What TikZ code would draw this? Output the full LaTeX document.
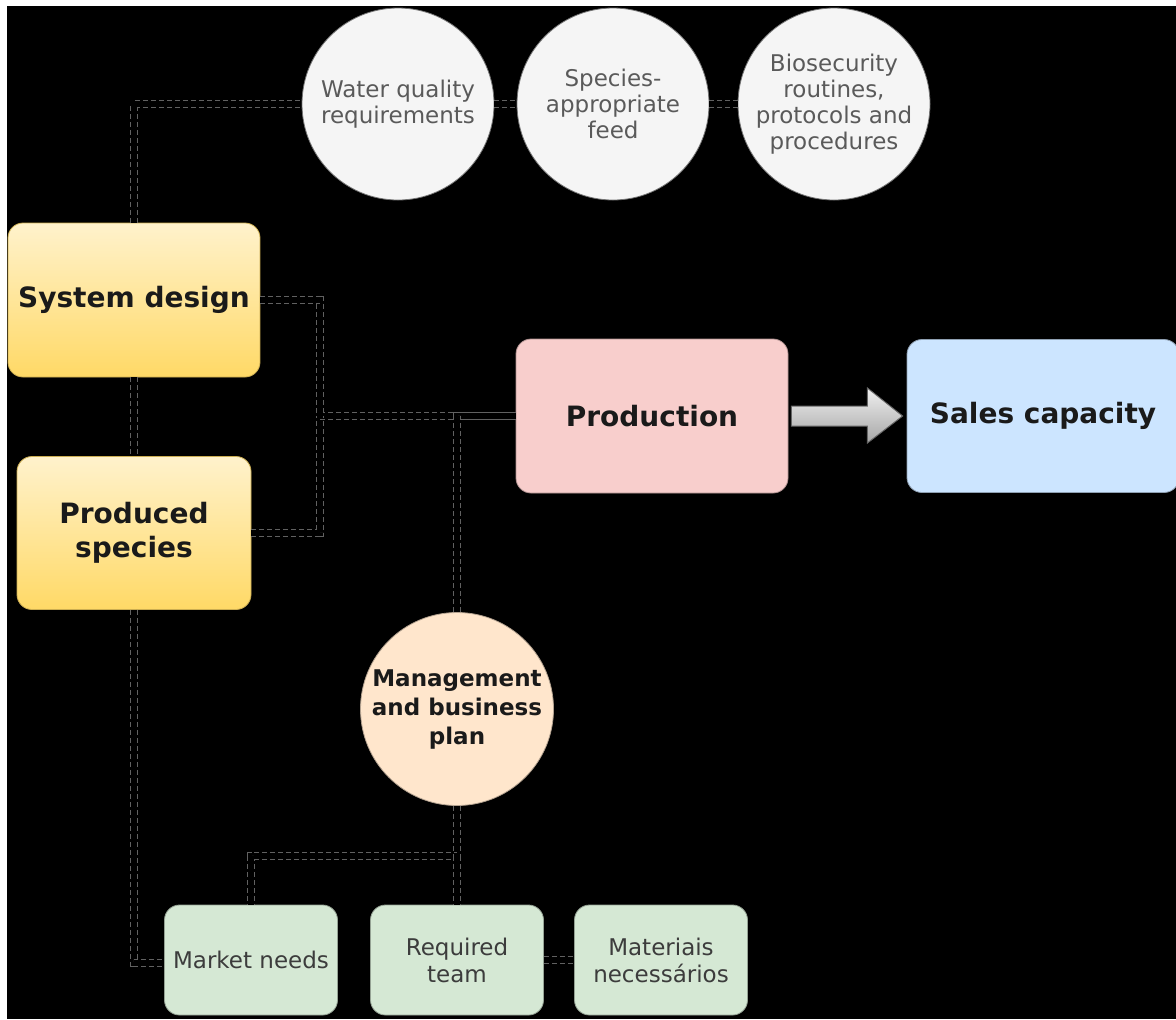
\documentclass[tikz,border=0pt]{standalone}
\usepackage{fontspec}
\setmainfont{DejaVu Sans}
\usetikzlibrary{calc}

\definecolor{circfill}{HTML}{F5F5F5}
\definecolor{circtext}{HTML}{5A5A5A}
\definecolor{yeltop}{HTML}{FFF2CC}
\definecolor{yelbot}{HTML}{FFD966}
\definecolor{prodfill}{HTML}{F8CECC}
\definecolor{salesfill}{HTML}{CCE5FF}
\definecolor{mgmtfill}{HTML}{FFE6CC}
\definecolor{greenfill}{HTML}{D5E8D4}
\definecolor{darktext}{HTML}{1A1A1A}
\definecolor{softtext}{HTML}{3C3C3C}

\begin{document}
\begin{tikzpicture}[x=0.5pt,y=-0.5pt]
    \tikzset{
        bigfont/.style={font=\fontsize{14pt}{17pt}\selectfont\bfseries,text=darktext},
        block/.style={
            draw,rounded corners=7.5pt,
            minimum width=136pt,minimum height=77pt,
            align=center,inner sep=1pt
        },
        yellowblock/.style={block,bigfont,draw=yelbot!80!black,
            top color=yeltop,bottom color=yelbot},
        topic/.style={circle,draw=black!55,fill=circfill,minimum size=96pt,
            inner sep=1pt,align=center,text=circtext,
            font=\fontsize{11.5pt}{13pt}\selectfont},
        item/.style={block,draw=greenfill!70!black,fill=greenfill,
            minimum width=86.5pt,minimum height=55pt,text=softtext,
            font=\fontsize{11.5pt}{13.5pt}\selectfont},
        link/.style={draw=black!62,line width=0.5pt,double=black,
            double distance=3pt,dash pattern=on 2.5pt off 1.5pt}
    }

    \useasboundingbox (0,0) rectangle (1176,1019);
    \fill[white] (0,0) rectangle (1176,1019);
    \fill[black] (7,6) rectangle (1176,1019);

    % top row
    \node[topic] (water) at (398,104) {Water quality\\requirements};
    \node[topic] (feed) at (613,104) {Species-\\appropriate\\feed};
    \node[topic] (bio) at (834,104) {Biosecurity\\routines,\\protocols and\\procedures};

    % left column
    \node[yellowblock,minimum width=126pt] (sysd) at (134,300) {System design};
    \node[yellowblock,minimum width=117pt,minimum height=76.5pt] (spec) at (134,533)
        {Produced\\species};

    % centre
    \node[block,bigfont,draw=prodfill!70!black,fill=prodfill] (prod) at (652,416)
        {Production};
    \node[block,bigfont,draw=salesfill!70!black,fill=salesfill,minimum height=76.5pt]
        (sales) at (1043,416) {Sales capacity};
    \node[circle,draw=mgmtfill!70!black,fill=mgmtfill,minimum size=96pt,
        inner sep=1pt,align=center,text=darktext,
        font=\fontsize{11.5pt}{14.5pt}\selectfont\bfseries] (mgmt) at (457,709)
        {Management\\and business\\plan};

    % bottom row
    \node[item] (market) at (251,960) {Market needs};
    \node[item] (team) at (457,960) {Required\\team};
    \node[item] (mat) at (661,960) {Materiais\\necessários};

    \coordinate (join) at (320,416);
    \coordinate (fork) at (457,856);

    \draw[link] (sysd.north) |- (water.west);
    \foreach \a/\b in {water/feed,feed/bio,team/mat}{
        \draw[link] (\a.east) -- (\b.west);
    }
    \draw[link] (sysd.south) -- (spec.north);
    \draw[link] (sysd.east) -| (join) -- (prod.west);
    \draw[link] (spec.east) -| (join);
    \draw[link] (mgmt.north) |- (prod.west);
    \draw[link] (spec.south) |- ($(market.west)+(0,3)$);
    \draw[link] (mgmt.south) -- (fork) -| (market.north);
    \draw[link] (fork) -- (team.north);

    % block arrow
    \draw[draw=black!60,line width=0.5pt,top color=black!6,bottom color=black!35]
        ($(prod.east)+(3,-10)$) -- ($(prod.east)+(79,-10)$)
        -- ($(prod.east)+(79,-28)$) -- ($(sales.west)+(-4,0)$)
        -- ($(prod.east)+(79,27)$) -- ($(prod.east)+(79,10)$)
        -- ($(prod.east)+(3,10)$) -- cycle;
\end{tikzpicture}
\end{document}
